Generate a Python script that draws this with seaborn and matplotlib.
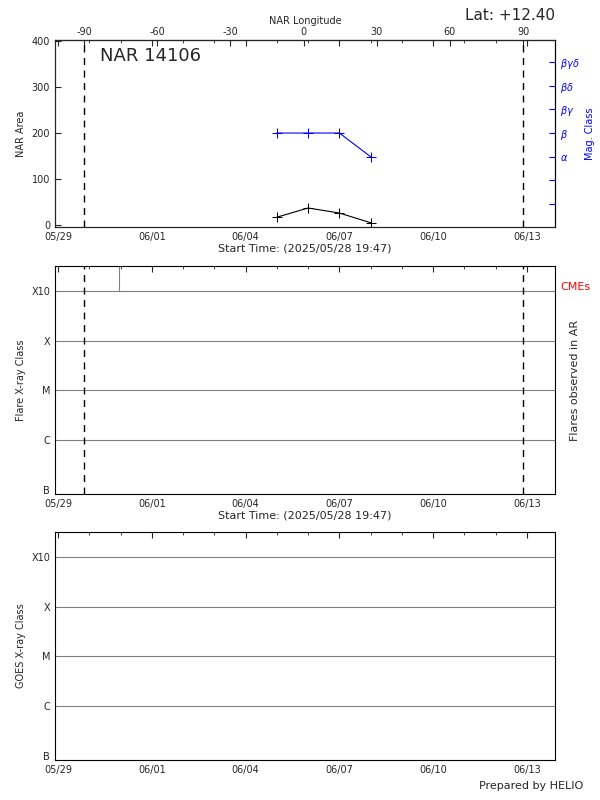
import numpy as np
import pandas as pd
import matplotlib
matplotlib.use("Agg")
import matplotlib.pyplot as plt
import matplotlib.dates as mdates
import seaborn as sns

# data
obs_dates = ["2025-06-05", "2025-06-06", "2025-06-07", "2025-06-08"]
nar_area = [17, 37, 26, 5]
mag_class_idx = [3, 3, 3, 2]          # 2 = alpha, 3 = beta
mag_labels = ["", "", r"$\alpha$", r"$\beta$", r"$\beta\gamma$", r"$\beta\delta$", r"$\beta\gamma\delta$"]
limb_dates = ["2025-05-29 20:00", "2025-06-12 21:00"]
flare_dates = ["2025-05-30 23:00"]
flare_level = [4.0]
class_labels = ["B", "C", "M", "X", "X10"]
lon_ticks = [-90, -60, -30, 0, 30, 60, 90]

t0 = pd.Timestamp("2025-05-28 21:40")
t1 = pd.Timestamp("2025-06-13 21:30")
df = pd.DataFrame({"date": pd.to_datetime(obs_dates), "area": nar_area, "mag": mag_class_idx})
limbs = pd.to_datetime(limb_dates)

sns.set_style("white")
plt.rcParams.update({"font.size": 7, "font.family": "DejaVu Sans"})
fig = plt.figure(figsize=(6, 8), dpi=100)
W, H = 600, 800
def mk(top, bot):
    return fig.add_axes([55 / W, 1 - bot / H, 500 / W, (bot - top) / H])
ax1 = mk(40, 227)
ax2 = mk(266, 494)
ax3 = mk(532, 760)

def fmt_time(ax):
    ax.set_xlim(t0, t1)
    ticks = pd.date_range("2025-05-29", "2025-06-13", freq="3D")
    ax.set_xticks(ticks)
    ax.xaxis.set_major_formatter(mdates.DateFormatter("%m/%d"))
    ax.xaxis.set_minor_locator(mdates.DayLocator())
    ax.tick_params(direction="in", which="both", top=True, length=4)
    ax.tick_params(which="minor", length=2)
    for s in ax.spines.values():
        s.set_color("black"); s.set_linewidth(0.8)

# panel 1
sns.lineplot(data=df, x="date", y="area", ax=ax1, color="black", marker="+", markersize=7,
             markeredgecolor="black", linewidth=0.8)
ax1.set_ylim(-4.3, 402)
ax1.set_yticks([0, 100, 200, 300, 400])
ax1.set_ylabel("NAR Area")
ax1.set_xlabel("Start Time: (2025/05/28 19:47)", labelpad=1, fontsize=8)
fmt_time(ax1)
for d in limbs:
    ax1.axvline(d, color="black", ls=(0, (5, 4)), lw=1)
ax1.text(0.09, 0.89, "NAR 14106", transform=ax1.transAxes, fontsize=13)
ax1r = ax1.twinx()
sns.lineplot(data=df, x="date", y="mag", ax=ax1r, color="blue", marker="+", markersize=7,
             markeredgecolor="blue", linewidth=0.8)
ax1r.set_ylim(-0.96, 6.92)
ax1r.set_yticks(range(len(mag_labels)))
ax1r.set_yticklabels(mag_labels, color="blue")
ax1r.tick_params(axis="y", colors="blue", direction="in", length=4)
ax1r.spines["right"].set_color("black")
ax1r.set_ylabel("Mag. Class", color="blue")
ax1r.set_xlim(t0, t1)
# longitude axis on top
lon_x = [mdates.date2num(limbs[0]) + (l + 90) / 180 * (mdates.date2num(limbs[1]) - mdates.date2num(limbs[0])) for l in lon_ticks]
axt = ax1.secondary_xaxis("top")
axt.set_xticks(lon_x)
axt.set_xticklabels([str(l) for l in lon_ticks])
axt.tick_params(direction="in", length=4, pad=2)
axt.set_xlabel("NAR Longitude", labelpad=2)
fig.text(555 / W, 1 - 15 / H, "Lat: +12.40", ha="right", va="center", fontsize=11)

# panels 2 and 3
for ax, lab in [(ax2, "Flare X-ray Class"), (ax3, "GOES X-ray Class")]:
    fmt_time(ax)
    ax.set_ylim(-0.08, 4.5)
    ax.set_yticks(range(len(class_labels)))
    ax.set_yticklabels(class_labels)
    for k in range(1, len(class_labels)):
        ax.axhline(k, color="gray", lw=0.8)
    ax.set_ylabel(lab)
ax2.set_xlabel("Start Time: (2025/05/28 19:47)", labelpad=1, fontsize=8)
for d in limbs:
    ax2.axvline(d, color="black", ls=(0, (5, 4)), lw=1)
for d, lv in zip(pd.to_datetime(flare_dates), flare_level):
    ax2.vlines(d, lv, 4.5, color="gray", lw=0.8)
ax2.text(1.01, 0.91, "CMEs", color="red", transform=ax2.transAxes, fontsize=8, va="center")
ax2.text(1.04, 0.5, "Flares observed in AR", rotation=90, transform=ax2.transAxes,
         va="center", ha="center", fontsize=8)
fig.text(583 / W, 1 - 786 / H, "Prepared by HELIO", ha="right", va="center", fontsize=8)

fig.savefig("out.png", dpi=100)
